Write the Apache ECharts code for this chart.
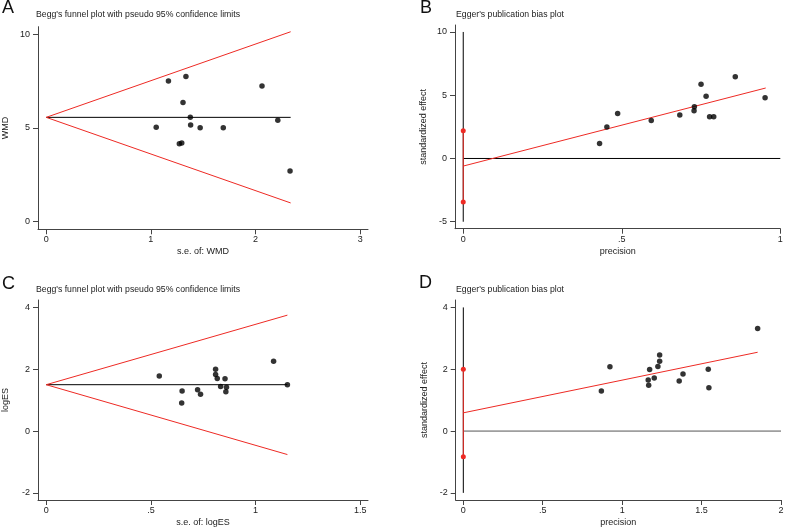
<!DOCTYPE html>
<html>
<head>
<meta charset="utf-8">
<script src="https://cdn.jsdelivr.net/npm/echarts@6/dist/echarts.min.js"></script>
<style>
  html, body { margin: 0; padding: 0; background: #fff; }
  #main { width: 789px; height: 528px; }
</style>
</head>
<body>
<div id="main"></div>
<script>
// panel texts
var panelLetters = ['A', 'B', 'C', 'D'];
var panelTitles = [
  "Begg's funnel plot with pseudo 95% confidence limits",
  "Egger's publication bias plot",
  "Begg's funnel plot with pseudo 95% confidence limits",
  "Egger's publication bias plot"
];
var xNames = ['s.e. of: WMD', 'precision', 's.e. of: logES', 'precision'];
var yNames = ['WMD', 'standardized effect', 'logES', 'standardized effect'];

// tick values
var xTicksA = [0, 1, 2, 3];
var yTicksA = [0, 5, 10];
var xTicksB = [0, 0.5, 1];
var yTicksB = [-5, 0, 5, 10];
var xTicksC = [0, 0.5, 1, 1.5];
var yTicksC = [-2, 0, 2, 4];
var xTicksD = [0, 0.5, 1, 1.5, 2];
var yTicksD = [-2, 0, 2, 4];

// A: Begg's funnel, WMD
var seWMD = [1.168, 1.335, 2.062, 1.307, 1.377, 2.213, 1.051, 1.380, 1.471, 1.692, 1.272, 1.295, 2.330];
var wmd   = [7.50, 7.75, 7.24, 6.36, 5.56, 5.40, 5.03, 5.15, 5.01, 5.01, 4.15, 4.19, 2.69];
var pooledA = [[0, 5.56], [2.336, 5.56]];
var upperA  = [[0, 5.56], [2.336, 10.14]];
var lowerA  = [[0, 5.56], [2.336, 0.98]];

// B: Egger's plot, WMD
var precB   = [0.430, 0.453, 0.487, 0.593, 0.683, 0.728, 0.729, 0.750, 0.766, 0.777, 0.790, 0.858, 0.952];
var stdEffB = [1.19, 2.48, 3.56, 3.01, 3.43, 3.77, 4.09, 5.86, 4.91, 3.30, 3.30, 6.46, 4.80];
var fitB    = [[0, -0.60], [0.954, 5.57]];
var ciB     = [[0, -3.43], [0, 2.19]];
var refVB   = [[0, -5], [0, 10]];
var refHB   = [[0, 0], [1, 0]];

// C: Begg's funnel, logES
var seLogES = [0.540, 0.649, 0.647, 0.723, 0.737, 0.809, 0.809, 0.817, 0.833, 0.854, 0.861, 0.858, 1.086, 1.152];
var logES   = [1.78, 1.30, 0.91, 1.34, 1.19, 2.00, 1.83, 1.70, 1.44, 1.69, 1.42, 1.27, 2.26, 1.50];
var pooledC = [[0, 1.50], [1.152, 1.50]];
var upperC  = [[0, 1.50], [1.152, 3.75]];
var lowerC  = [[0, 1.50], [1.152, -0.76]];

// D: Egger's plot, logES
var precD   = [0.869, 0.923, 1.164, 1.167, 1.173, 1.202, 1.225, 1.236, 1.236, 1.359, 1.383, 1.542, 1.546, 1.853];
var stdEffD = [1.30, 2.08, 1.65, 1.48, 1.99, 1.72, 2.09, 2.26, 2.46, 1.62, 1.85, 2.00, 1.40, 3.32];
var fitD    = [[0, 0.59], [1.853, 2.55]];
var ciD     = [[0, -0.83], [0, 2.00]];
var refVD   = [[0, -2], [0, 4]];
var refHD   = [[0, 0], [2, 0]];

var RED = '#ee2a24';
var AXIS = '#444';
var FONT = '"Liberation Sans", Arial, sans-serif';

function fmt(v) {
  return String(v).replace(/^(-?)0\./, '$1.');
}

function pts(xs, ys) {
  return xs.map(function (x, i) { return [x, ys[i]]; });
}

var grids = [
  {left: 35, top: 26.7, width: 333, height: 202.6},
  {left: 455, top: 25, width: 325.3, height: 203.7},
  {left: 35, top: 300, width: 333, height: 204.3},
  {left: 455.7, top: 300, width: 325.3, height: 204.3}
];
var xRanges = [[-0.0786, 3.075], [-0.026, 1.0], [-0.0393, 1.537], [-0.048, 2.0]];
var yRanges = [[-0.43, 10.41], [-5.55, 10.55], [-2.23, 4.24], [-2.23, 4.24]];
var xTicks = [xTicksA, xTicksB, xTicksC, xTicksD];
var yTicks = [yTicksA, yTicksB, yTicksC, yTicksD];
var yNameGap = [28, 27, 28, 27];

var xAxes = [], yAxes = [];
for (var i = 0; i < 4; i++) {
  xAxes.push({
    gridIndex: i, type: 'value', min: xRanges[i][0], max: xRanges[i][1],
    name: xNames[i], nameLocation: 'middle', nameGap: 18,
    nameTextStyle: {fontFamily: FONT, fontSize: 9, color: '#222'},
    axisLine: {onZero: false, lineStyle: {color: AXIS, width: 1}},
    axisTick: {length: 5, customValues: xTicks[i], lineStyle: {color: AXIS}},
    axisLabel: {customValues: xTicks[i], formatter: fmt, margin: 6,
      fontFamily: FONT, fontSize: 9, color: '#222'},
    splitLine: {show: false}
  });
  yAxes.push({
    gridIndex: i, type: 'value', min: yRanges[i][0], max: yRanges[i][1],
    name: yNames[i], nameLocation: 'middle', nameGap: yNameGap[i],
    nameTextStyle: {fontFamily: FONT, fontSize: 9, color: '#222'},
    axisLine: {onZero: false, lineStyle: {color: AXIS, width: 1}},
    axisTick: {length: 5, customValues: yTicks[i], lineStyle: {color: AXIS}},
    axisLabel: {customValues: yTicks[i], formatter: fmt, margin: 8,
      fontFamily: FONT, fontSize: 9, color: '#222'},
    splitLine: {show: false}
  });
}

function line(idx, data, color) {
  return {
    type: 'line', xAxisIndex: idx, yAxisIndex: idx, data: data,
    symbol: 'none', silent: true, lineStyle: {color: color, width: 1}
  };
}
function dots(idx, data) {
  return {
    type: 'scatter', xAxisIndex: idx, yAxisIndex: idx, data: data,
    symbolSize: 5.5, silent: true, itemStyle: {color: '#000'}, z: 5
  };
}
function ciLine(idx, data) {
  return {
    type: 'line', xAxisIndex: idx, yAxisIndex: idx, data: data,
    symbol: 'circle', symbolSize: 5, showSymbol: true, silent: true,
    lineStyle: {color: RED, width: 1}, itemStyle: {color: RED}, z: 4
  };
}

var graphics = [];
var letterPos = [[2, 8.5], [420, 8.5], [2, 284], [419, 283]];
var titlePos = [[36, 14.5], [456, 14.5], [36, 290], [456, 290]];
for (var k = 0; k < 4; k++) {
  graphics.push({type: 'text', x: letterPos[k][0], y: letterPos[k][1],
    style: {text: panelLetters[k], font: '18px ' + FONT, fill: '#111', verticalAlign: 'middle'}});
  graphics.push({type: 'text', x: titlePos[k][0], y: titlePos[k][1],
    style: {text: panelTitles[k], font: '8.7px ' + FONT, fill: '#222', verticalAlign: 'middle'}});
}

var chart = echarts.init(document.getElementById('main'), null, {renderer: 'canvas'});
var option = {
  animation: false,
  backgroundColor: '#fff',
  grid: grids,
  xAxis: xAxes,
  yAxis: yAxes,
  graphic: graphics,
  series: [
    line(0, pooledA, '#000'),
    line(0, upperA, RED),
    line(0, lowerA, RED),
    dots(0, pts(seWMD, wmd)),

    line(1, refVB, '#000'),
    line(1, refHB, '#000'),
    line(1, fitB, RED),
    ciLine(1, ciB),
    dots(1, pts(precB, stdEffB)),

    line(2, pooledC, '#000'),
    line(2, upperC, RED),
    line(2, lowerC, RED),
    dots(2, pts(seLogES, logES)),

    line(3, refVD, '#000'),
    line(3, refHD, '#555'),
    line(3, fitD, RED),
    ciLine(3, ciD),
    dots(3, pts(precD, stdEffD))
  ]
};
chart.setOption(option);
</script>
</body>
</html>
